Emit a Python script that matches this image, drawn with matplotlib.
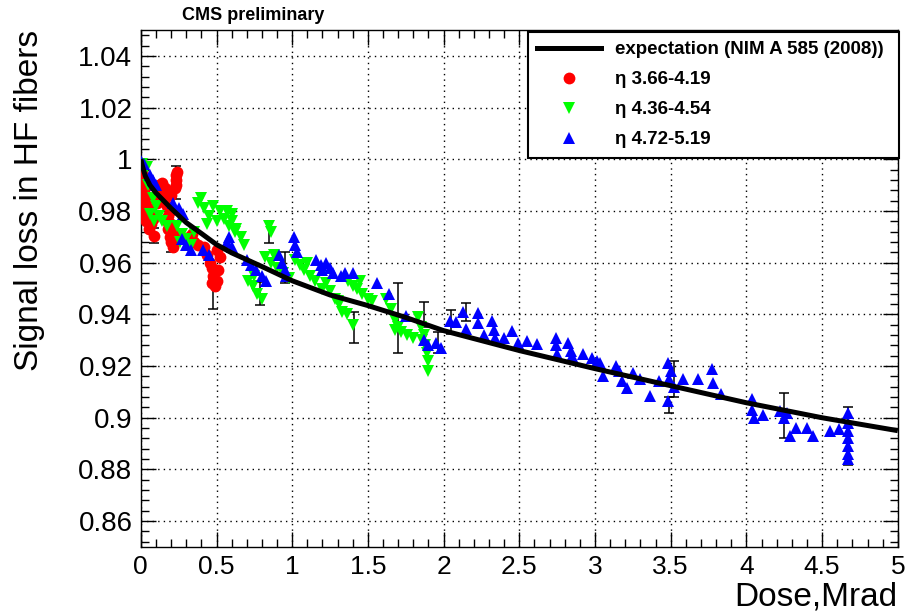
import matplotlib
matplotlib.use("Agg")
import matplotlib.pyplot as plt
from matplotlib.lines import Line2D
from matplotlib.ticker import MultipleLocator

plt.rcParams['font.family'] = ['Liberation Sans', 'DejaVu Sans']

# expectation curve
curve_x = [0, 0.01, 0.03, 0.06, 0.1, 0.15, 0.2, 0.3, 0.4, 0.5, 0.6, 0.8, 1.0, 1.25,
           1.5, 1.75, 2.0, 2.5, 3.0, 3.5, 4.0, 4.5, 5.0]
curve_y = [1.0, 0.9975, 0.9935, 0.990, 0.987, 0.984, 0.981, 0.9755, 0.9713, 0.967,
           0.9638, 0.9585, 0.9530, 0.9475, 0.9434, 0.9388, 0.9337, 0.926, 0.919,
           0.9124, 0.9058, 0.9000, 0.8950]

# eta 3.66-4.19 (red circles)
red_x = [0.0, 0.01, 0.005, 0.02, 0.01, 0.025, 0.015, 0.03, 0.02,
         0.04, 0.05, 0.045, 0.06, 0.07, 0.055, 0.08, 0.035, 0.09,
         0.12, 0.14, 0.16, 0.13, 0.15, 0.17, 0.19, 0.18, 0.2, 0.11,
         0.23, 0.23, 0.235, 0.225, 0.24,
         0.17, 0.18, 0.19, 0.2, 0.21, 0.22, 0.2, 0.23,
         0.32, 0.35, 0.38, 0.34,
         0.42, 0.44, 0.46, 0.47, 0.48, 0.5, 0.49, 0.51, 0.52, 0.5, 0.47]
red_y = [0.993, 0.995, 0.989, 0.986, 0.983, 0.980, 0.978, 0.991, 0.988,
         0.990, 0.985, 0.981, 0.978, 0.975, 0.973, 0.977, 0.976, 0.9705,
         0.990, 0.991, 0.989, 0.986, 0.984, 0.982, 0.980, 0.978, 0.986, 0.983,
         0.994, 0.992, 0.990, 0.989, 0.995,
         0.976, 0.973, 0.970, 0.968, 0.966, 0.972, 0.975, 0.969,
         0.970, 0.968, 0.967, 0.971,
         0.966, 0.963, 0.960, 0.958, 0.955, 0.953, 0.951, 0.957, 0.962, 0.965, 0.952]

# eta 4.36-4.54 (green down triangles)
green_x = [0.01, 0.04, 0.05, 0.08, 0.1, 0.12, 0.14, 0.17, 0.06, 0.09,
           0.24, 0.27, 0.3, 0.33, 0.26, 0.35,
           0.38, 0.4, 0.42, 0.45, 0.48, 0.5, 0.52, 0.55, 0.58, 0.6, 0.62, 0.44,
           0.57, 0.6, 0.63, 0.66, 0.68,
           0.71, 0.74, 0.77, 0.8, 0.75,
           0.85, 0.86,
           0.82, 0.86, 0.9, 0.94, 0.98, 0.88,
           1.02, 1.05, 1.08, 1.12, 1.15, 1.2, 1.1,
           1.22, 1.25, 1.28, 1.31, 1.3, 1.33,
           1.36, 1.4,
           1.37, 1.4, 1.43, 1.46, 1.5, 1.53, 1.45,
           1.62, 1.65, 1.68, 1.7,
           1.68, 1.72, 1.76, 1.8,
           1.83, 1.85, 1.87, 1.88, 1.89, 1.9, 1.9, 1.86]
green_y = [0.998, 0.997, 0.990, 0.985, 0.982, 0.978, 0.976, 0.974, 0.979, 0.976,
           0.974, 0.971, 0.969, 0.967, 0.968, 0.972,
           0.983, 0.985, 0.981, 0.978, 0.982, 0.976, 0.980, 0.977, 0.974, 0.979, 0.972, 0.975,
           0.980, 0.976, 0.973, 0.970, 0.967,
           0.953, 0.951, 0.948, 0.946, 0.955,
           0.974, 0.972,
           0.962, 0.960, 0.958, 0.956, 0.954, 0.963,
           0.961, 0.959, 0.957, 0.955, 0.953, 0.950, 0.960,
           0.952, 0.949, 0.946, 0.944, 0.945, 0.941,
           0.940, 0.936,
           0.953, 0.951, 0.950, 0.948, 0.946, 0.945, 0.953,
           0.946, 0.942, 0.938, 0.935,
           0.934, 0.933, 0.932, 0.931,
           0.939, 0.935, 0.932, 0.928, 0.925, 0.922, 0.918, 0.930]

# eta 4.72-5.19 (blue up triangles)
blue_x = [0.0, 0.02, 0.06, 0.08, 0.1, 0.21, 0.25, 0.28, 0.27, 0.3, 0.33, 0.41, 0.45,
          0.57, 0.6, 0.58,
          0.7, 0.73, 0.76, 0.8, 0.83, 0.91, 0.93, 0.95, 0.96, 1.01, 1.02, 1.03,
          1.16, 1.19, 1.22, 1.25, 1.27, 1.2, 1.32,
          1.35, 1.4, 1.56, 1.64, 1.75, 1.87, 1.9, 1.95, 1.98, 2.04, 2.08, 2.13,
          2.15, 2.23, 2.23, 2.27, 2.32, 2.33, 2.34, 2.40, 2.45, 2.49, 2.55, 2.62,
          2.74, 2.74, 2.75, 2.82, 2.84, 2.85, 2.92, 2.98, 3.01, 3.03, 3.05,
          3.14, 3.16, 3.18, 3.21, 3.25, 3.3, 3.36, 3.42, 3.48, 3.5, 3.49, 3.52,
          3.48, 3.58, 3.68, 3.77, 3.78, 3.83, 4.04, 4.04, 4.05, 4.11, 4.22, 4.25,
          4.27, 4.29, 4.33, 4.40, 4.44, 4.55, 4.61,
          4.67, 4.67, 4.67, 4.67, 4.67, 4.67, 4.67]
blue_y = [0.9995, 0.998, 0.994, 0.992, 0.990, 0.983, 0.981, 0.979, 0.969, 0.967, 0.965,
          0.965, 0.963, 0.968, 0.966, 0.970,
          0.961, 0.959, 0.957, 0.955, 0.953, 0.963, 0.960, 0.957, 0.955, 0.970, 0.967, 0.964,
          0.961, 0.959, 0.960, 0.958, 0.956, 0.957, 0.955,
          0.956, 0.956, 0.952, 0.948, 0.9395, 0.930, 0.928, 0.929, 0.927, 0.9376, 0.937,
          0.941, 0.9345, 0.9405, 0.9365, 0.932, 0.9375, 0.934, 0.931, 0.931, 0.9337,
          0.929, 0.9295, 0.9287, 0.931, 0.928, 0.9248, 0.929, 0.926, 0.924, 0.9248,
          0.923, 0.922, 0.921, 0.9163, 0.920, 0.918, 0.9144, 0.9116, 0.9175, 0.915,
          0.9085, 0.9144, 0.921, 0.918, 0.915, 0.912, 0.9066, 0.915, 0.915, 0.919,
          0.9133, 0.909, 0.9074, 0.903, 0.900, 0.901, 0.9027, 0.900, 0.902, 0.893,
          0.896, 0.896, 0.893, 0.895, 0.8958,
          0.902, 0.898, 0.895, 0.892, 0.889, 0.886, 0.884]

# visible error bars (x, y, half-height)
err_x = [0.02, 0.09, 0.23, 0.2, 0.48, 0.85, 0.79, 0.95, 1.41, 1.70, 1.87, 1.96,
         2.05, 2.15, 3.52, 3.49, 4.25, 4.67]
err_y = [0.9795, 0.9705, 0.991, 0.967, 0.948, 0.972, 0.948, 0.958, 0.935, 0.9385,
         0.9398, 0.929, 0.937, 0.941, 0.915, 0.905, 0.901, 0.893]
err_e = [0.002, 0.0028, 0.0063, 0.003, 0.006, 0.0043, 0.0045, 0.006, 0.006, 0.0135,
         0.0048, 0.004, 0.0045, 0.0035, 0.007, 0.003, 0.0087, 0.0113]

legend_labels = ["expectation (NIM A 585 (2008))", "η 3.66-4.19", "η 4.36-4.54", "η 4.72-5.19"]

W, H = 907, 614
fig = plt.figure(figsize=(W / 100, H / 100), dpi=100)
ax = fig.add_axes([140.8 / W, 1 - 547 / H, 757 / W, 517 / H])

ax.errorbar(err_x, err_y, yerr=err_e, fmt='none', ecolor='black', elinewidth=1.1,
            capsize=3.5, capthick=1.1, zorder=2)
ms = 8.5
ax.plot(red_x, red_y, 'o', color='#ff0000', ms=ms, mew=0, zorder=3)
ax.plot(green_x, green_y, 'v', color='#00ff00', ms=ms, mew=0, zorder=3)
ax.plot(blue_x, blue_y, '^', color='#0000ff', ms=ms, mew=0, zorder=3)
ax.plot(curve_x, curve_y, '-', color='black', lw=3.6, zorder=4, solid_capstyle='butt')

ax.set_xlim(0, 5)
ax.set_ylim(0.85, 1.05)
ax.xaxis.set_major_locator(MultipleLocator(0.5))
ax.xaxis.set_minor_locator(MultipleLocator(0.1))
ax.yaxis.set_major_locator(MultipleLocator(0.02))
ax.yaxis.set_minor_locator(MultipleLocator(0.004))

def fmt(v, pos=None):
    s = f"{v:.2f}".rstrip('0').rstrip('.')
    return s
ax.xaxis.set_major_formatter(plt.FuncFormatter(fmt))
ax.yaxis.set_major_formatter(plt.FuncFormatter(fmt))

ax.tick_params(which='both', direction='in', top=True, right=True, width=1)
ax.tick_params(which='major', length=11)
ax.tick_params(which='minor', length=6)
ax.tick_params(axis='y', labelsize=20, pad=6)
ax.tick_params(axis='x', labelsize=19, pad=6)
ax.grid(True, which='major', color='black', linestyle=(0, (1, 3)), linewidth=1)
for s in ax.spines.values():
    s.set_linewidth(1)

fig.text(30 / W, 1 - 30 / H, "Signal loss in HF fibers", rotation=90, ha='center',
         va='top', fontsize=24)
fig.text(897 / W, 1 - 613 / H, "Dose,Mrad", ha='right', va='bottom', fontsize=24)
fig.text(182 / W, 1 - 16 / H, "CMS preliminary", ha='left', va='center',
         fontsize=13, fontweight='bold')

handles = [Line2D([], [], color='black', lw=3.6),
           Line2D([], [], marker='o', color='#ff0000', ls='none', ms=ms, mew=0),
           Line2D([], [], marker='v', color='#00ff00', ls='none', ms=ms, mew=0),
           Line2D([], [], marker='^', color='#0000ff', ls='none', ms=ms, mew=0)]
leg = fig.legend(handles, legend_labels, loc='upper left',
                 bbox_to_anchor=(528 / W, 1 - 157 / H, 371 / W, 125 / H),
                 mode='expand', fancybox=False, framealpha=1, edgecolor='black',
                 prop={'weight': 'bold', 'size': 13.5}, handlelength=3.4,
                 handletextpad=0.75, labelspacing=0.68, borderpad=0.5,
                 borderaxespad=0)
leg.get_frame().set_linewidth(1.5)

fig.savefig("out.png", dpi=100)
